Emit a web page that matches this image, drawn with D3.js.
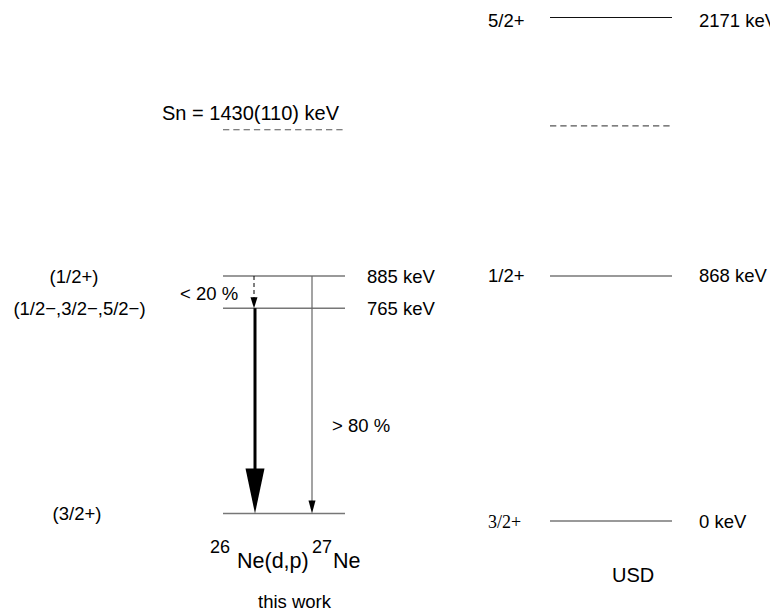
<!DOCTYPE html>
<html>
<head>
<meta charset="utf-8">
<script src="https://cdn.jsdelivr.net/npm/d3@7"></script>
<style>
  html, body { margin: 0; padding: 0; background: #fff; }
  svg { display: block; }
  text { font-family: "Liberation Sans", Arial, Helvetica, sans-serif; fill: #000; }
</style>
</head>
<body>
<svg id="chart" width="770" height="616"></svg>
<script>
// ---------- data ----------
// experimental levels of 27Ne (this work), energies in keV
const expEnergies = [0, 765, 885];
const expSpins = ["(3/2+)", "(1/2\u2212,3/2\u2212,5/2\u2212)", "(1/2+)"];
const expLabels = ["", "765 keV", "885 keV"];
const expSn = 1430;
const expSnLabel = "Sn = 1430(110) keV";

// USD shell-model levels
const usdEnergies = [0, 868, 2171];
const usdSpins = ["3/2+", "1/2+", "5/2+"];
const usdLabels = ["0 keV", "868 keV", "2171 keV"];
const usdSn = 1400; // unlabelled dashed line (estimated)

// gamma transitions: from, to, branch label
const gammaFrom = [885, 765, 885];
const gammaTo = [765, 0, 0];
const gammaBranch = ["< 20 %", "", "> 80 %"];

// ---------- drawing ----------
const svg = d3.select("#chart");

// left scheme: linear energy scale
const yL = d3.scaleLinear().domain([0, 885]).range([513.5, 276]);
// right scheme: linear up to Sn, compressed above it (schematic)
const yR = d3.scaleLinear().domain([0, 1400, 2171]).range([521, 125.8, 17.5]);

const xL = [223, 345];
const xR = [550, 672];

const g = svg.append("g");

// left levels
g.selectAll("line.expLevel").data(expEnergies).join("line")
  .attr("class", "expLevel")
  .attr("x1", xL[0]).attr("x2", xL[1])
  .attr("y1", d => yL(d)).attr("y2", d => yL(d))
  .attr("stroke", "#777").attr("stroke-width", 1.5);

// left Sn dashed
g.append("line")
  .attr("x1", xL[0]).attr("x2", xL[1])
  .attr("y1", yL(expSn)).attr("y2", yL(expSn))
  .attr("stroke", "#555").attr("stroke-width", 1.2)
  .attr("stroke-dasharray", "6.3,4");
g.append("text")
  .attr("x", 162).attr("y", yL(expSn) - 10)
  .attr("font-size", 20)
  .text(expSnLabel);

// left spin labels
const spinX = [77, 79.5, 74];
g.selectAll("text.expSpin").data(expEnergies).join("text")
  .attr("class", "expSpin")
  .attr("x", (d, i) => spinX[i])
  .attr("y", d => yL(d) + 6.5)
  .attr("text-anchor", "middle")
  .attr("font-size", 18.5)
  .text((d, i) => expSpins[i]);

// left energy labels
g.selectAll("text.expLab").data(expEnergies).join("text")
  .attr("class", "expLab")
  .attr("x", 367)
  .attr("y", d => yL(d) + 7)
  .attr("font-size", 18.5)
  .text((d, i) => expLabels[i]);

// right levels
const usdColors = ["#777", "#777", "#111"];
g.selectAll("line.usdLevel").data(usdEnergies).join("line")
  .attr("class", "usdLevel")
  .attr("x1", xR[0]).attr("x2", xR[1])
  .attr("y1", d => yR(d)).attr("y2", d => yR(d))
  .attr("stroke", (d, i) => usdColors[i]).attr("stroke-width", (d, i) => i === 2 ? 1 : 1.5);

g.append("line")
  .attr("x1", xR[0]).attr("x2", xR[1])
  .attr("y1", yR(usdSn)).attr("y2", yR(usdSn))
  .attr("stroke", "#555").attr("stroke-width", 1.2)
  .attr("stroke-dasharray", "6.3,4");

g.selectAll("text.usdSpin").data(usdEnergies).join("text")
  .attr("class", "usdSpin")
  .attr("x", 488)
  .attr("y", (d, i) => yR(d) + (i === 2 ? 9 : 6.5))
  .attr("font-size", (d, i) => i === 0 ? 18 : 18.5)
  .style("font-family", (d, i) => i === 0 ? "'Liberation Serif', 'Times New Roman', serif" : null)
  .text((d, i) => usdSpins[i]);

g.selectAll("text.usdLab").data(usdEnergies).join("text")
  .attr("class", "usdLab")
  .attr("x", 699)
  .attr("y", (d, i) => yR(d) + (i === 2 ? 9 : 6.5))
  .attr("font-size", 18.5)
  .text((d, i) => usdLabels[i]);

// ---------- gamma transitions ----------
const gx = [254, 255, 312];
const headW = [7, 19, 7];
const headL = [11, 45, 13];
const gStroke = [1, 3, 1.2];
const gColor = ["#000", "#000", "#666"];
const gDash = ["4,3", null, null];

gammaFrom.forEach((f, i) => {
  const y1 = yL(f), y2 = yL(gammaTo[i]);
  const x = gx[i];
  g.append("line")
    .attr("x1", x).attr("x2", x)
    .attr("y1", y1).attr("y2", y2 - headL[i] + 2)
    .attr("stroke", gColor[i]).attr("stroke-width", gStroke[i])
    .attr("stroke-dasharray", gDash[i]);
  g.append("path")
    .attr("d", d3.line()([[x - headW[i] / 2, y2 - headL[i]], [x + headW[i] / 2, y2 - headL[i]], [x, y2]]) + "Z")
    .attr("fill", "#000");
});

// branch labels
g.append("text").attr("x", 180).attr("y", 300).attr("font-size", 18.5).text(gammaBranch[0]);
g.append("text").attr("x", 332).attr("y", 432).attr("font-size", 18.5).text(gammaBranch[2]);

// ---------- captions ----------
g.append("text").attr("x", 210).attr("y", 553).attr("font-size", 18).text("26");
g.append("text").attr("x", 237).attr("y", 568).attr("font-size", 21.5).text("Ne(d,p)");
g.append("text").attr("x", 312).attr("y", 553).attr("font-size", 18).text("27");
g.append("text").attr("x", 333).attr("y", 568).attr("font-size", 21.5).text("Ne");
g.append("text").attr("x", 258).attr("y", 608).attr("font-size", 18.5).text("this work");
g.append("text").attr("x", 612).attr("y", 582).attr("font-size", 20).text("USD");
</script>
</body>
</html>
